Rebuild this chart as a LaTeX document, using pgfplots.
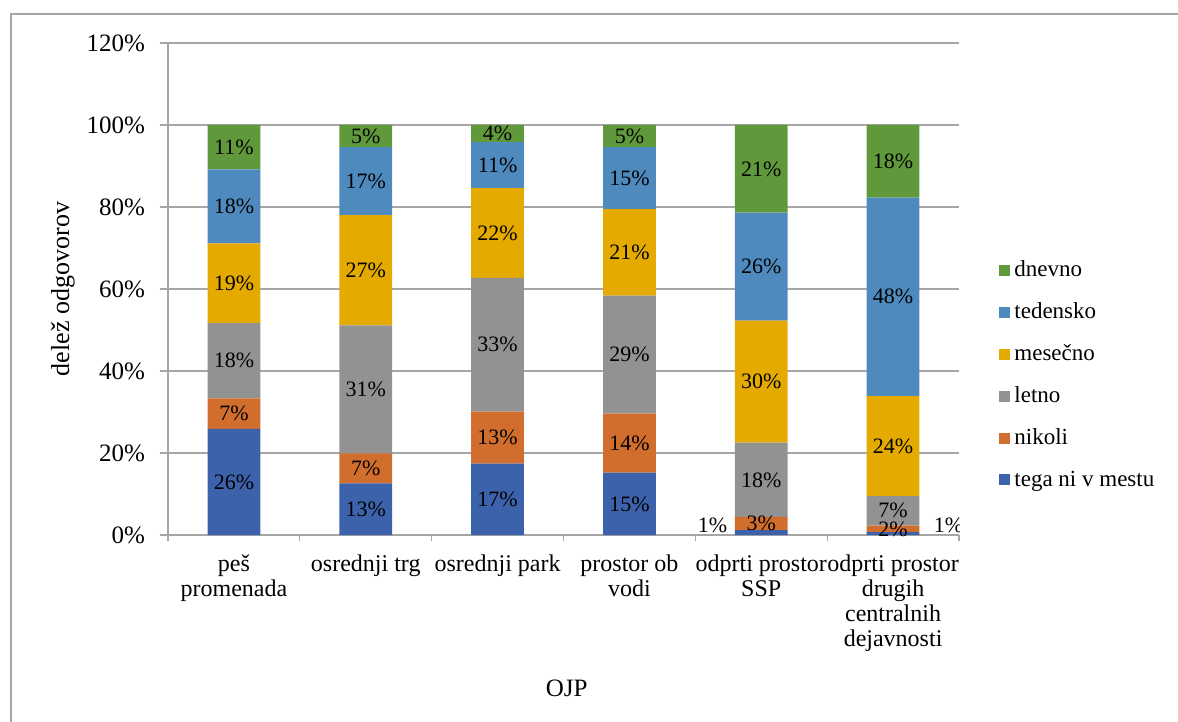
\documentclass[border=0pt]{standalone}
\usepackage{fontspec}
\setmainfont{Liberation Serif}
\usepackage{pgfplots}
\pgfplotsset{compat=1.18}
\usepackage{pgfplotstable}

\definecolor{cTega}{HTML}{3D62AC}
\definecolor{cNikoli}{HTML}{D26E2D}
\definecolor{cLetno}{HTML}{929292}
\definecolor{cMesec}{HTML}{E4AA00}
\definecolor{cTeden}{HTML}{4E8ABE}
\definecolor{cDnevno}{HTML}{60993C}
\definecolor{cAxis}{HTML}{A6A6A6}

% x: 0 peš promenada, 1 osrednji trg, 2 osrednji park, 3 prostor ob vodi, 4 odprti prostor SSP, 5 odprti prostor drugih centralnih dejavnosti
\pgfplotstableread{
x tega   nikoli letno mesecno tedensko dnevno lab
0 25.9   7.4    18.4  19.4    18.1     10.8   26\%
1 12.6   7.3    31.2  26.9    16.6     5.4    13\%
2 17.4   12.7   32.6  21.9    11.2     4.2    17\%
3 15.2   14.4   28.8  21.1    15.1     5.4    15\%
4 1.2    3.2    18.1  29.8    26.3     21.4   {}
5 0.7    1.6    7.2   24.4    48.4     17.7   {}
}\datatable

\begin{document}
\begin{tikzpicture}
\useasboundingbox (-84pt,-93.5pt) rectangle (505pt,267.5pt);
\draw[cAxis, line width=0.6pt] (-78.5pt,-100pt) -- (-78.5pt,260.5pt) -- (520pt,260.5pt);
\begin{axis}[
  at={(0,0)}, anchor=south west,
  scale only axis,
  width=395.5pt, height=246pt,
  ybar stacked,
  bar width=0.4,
  xmin=-0.5, xmax=5.5,
  ymin=0, ymax=120,
  xtick={0,1,2,3,4,5},
  xticklabels={{peš\\promenada},{osrednji trg},{osrednji park},{prostor ob\\vodi},{odprti prostor\\SSP},{odprti prostor\\drugih\\centralnih\\dejavnosti}},
  minor xtick={-0.5,0.5,1.5,2.5,3.5,4.5,5.5},
  major x tick style={draw=none},
  minor x tick style={cAxis, line width=0.6pt},
  minor tick length=3pt,
  ytick={0,20,40,60,80,100,120},
  yticklabel={\pgfmathprintnumber{\tick}\%},
  /pgf/number format/assume math mode=true,
  major tick length=4pt,
  tick align=outside,
  y tick style={cAxis, line width=0.6pt},
  ymajorgrids,
  grid style={cAxis, line width=0.6pt},
  axis x line*=bottom, axis y line*=left,
  axis line style={cAxis, line width=0.6pt, -},
  xticklabel style={font=\fontsize{12}{12.5}\selectfont, align=center, anchor=north, yshift=-2.5pt},
  yticklabel style={font=\fontsize{12.5}{15}\selectfont, xshift=-4pt},
  xlabel={OJP},
  xlabel style={font=\fontsize{12.5}{15}\selectfont, at={(axis description cs:0.504,-0.311)}, anchor=center},
  ylabel={delež odgovorov},
  ylabel style={font=\fontsize{13}{15}\selectfont, at={(axis description cs:-0.133,0.5)}, anchor=center, rotate=0},
  legend style={at={(axis description cs:1.043,0.574)}, anchor=north west, draw=none, fill=none,
    font=\fontsize{11.5}{13}\selectfont, row sep=7.5pt, cells={anchor=west},
    /tikz/every even column/.append style={column sep=1pt}},
  legend cell align=left,
  reverse legend,
  legend image code/.code={\fill[#1, draw=none] (0pt,-2.75pt) rectangle (5.5pt,2.75pt);},
  every node near coord/.append style={font=\fontsize{11}{13}\selectfont, text=black, anchor=center},
  nodes near coords={\pgfmathprintnumber[fixed,precision=0]{\pgfplotspointmeta}\%},
]
\addplot[fill=cTega, draw=none, point meta=explicit symbolic, nodes near coords={\pgfplotspointmeta}] table[x=x, y=tega, meta=lab] {\datatable};
\addlegendentry{tega ni v mestu}
\addplot[fill=cNikoli, draw=none] table[x=x, y=nikoli] {\datatable};
\addlegendentry{nikoli}
\addplot[fill=cLetno, draw=none] table[x=x, y=letno] {\datatable};
\addlegendentry{letno}
\addplot[fill=cMesec, draw=none] table[x=x, y=mesecno] {\datatable};
\addlegendentry{mesečno}
\addplot[fill=cTeden, draw=none] table[x=x, y=tedensko] {\datatable};
\addlegendentry{tedensko}
\addplot[fill=cDnevno, draw=none] table[x=x, y=dnevno] {\datatable};
\addlegendentry{dnevno}
\node[font=\fontsize{11}{13}\selectfont, anchor=center] at (axis cs:3.63,2.4) {1\%};
\node[font=\fontsize{11}{13}\selectfont, anchor=center] at (axis cs:5.42,2.4) {1\%};
\end{axis}
\end{tikzpicture}
\end{document}
